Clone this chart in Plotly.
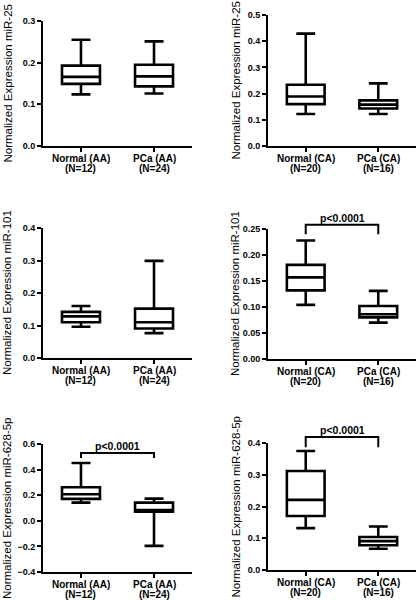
import plotly.graph_objects as go

# ---------------- data ----------------
groups_aa = ["Normal (AA)", "PCa (AA)"]
n_aa = ["(N=12)", "(N=24)"]
groups_ca = ["Normal (CA)", "PCa (CA)"]
n_ca = ["(N=20)", "(N=16)"]

titles = ["Normalized Expression miR-25", "Normalized Expression miR-25",
          "Normalized Expression miR-101", "Normalized Expression miR-101",
          "Normalized Expression miR-628-5p", "Normalized Expression miR-628-5p"]

# per panel: [Normal, PCa]
mir25_aa_min = [0.124, 0.126]
mir25_aa_q1 = [0.149, 0.143]
mir25_aa_med = [0.166, 0.167]
mir25_aa_q3 = [0.193, 0.195]
mir25_aa_max = [0.255, 0.251]

mir25_ca_min = [0.122, 0.122]
mir25_ca_q1 = [0.160, 0.143]
mir25_ca_med = [0.189, 0.158]
mir25_ca_q3 = [0.234, 0.174]
mir25_ca_max = [0.429, 0.239]

mir101_aa_min = [0.096, 0.0765]
mir101_aa_q1 = [0.110, 0.091]
mir101_aa_med = [0.128, 0.110]
mir101_aa_q3 = [0.142, 0.152]
mir101_aa_max = [0.160, 0.299]

mir101_ca_min = [0.104, 0.070]
mir101_ca_q1 = [0.132, 0.080]
mir101_ca_med = [0.157, 0.086]
mir101_ca_q3 = [0.181, 0.102]
mir101_ca_max = [0.228, 0.131]

mir628_aa_min = [0.142, -0.196]
mir628_aa_q1 = [0.171, 0.071]
mir628_aa_med = [0.207, 0.084]
mir628_aa_q3 = [0.262, 0.142]
mir628_aa_max = [0.451, 0.173]

mir628_ca_min = [0.132, 0.067]
mir628_ca_q1 = [0.170, 0.078]
mir628_ca_med = [0.221, 0.091]
mir628_ca_q3 = [0.312, 0.104]
mir628_ca_max = [0.375, 0.137]

y_ranges = [[0, 0.3], [0, 0.5], [0, 0.4], [0, 0.25], [-0.4, 0.6], [0, 0.4]]
y_dticks = [0.1, 0.1, 0.1, 0.05, 0.2, 0.1]
y_formats = [".1f", ".1f", ".1f", ".2f", ".1f", ".1f"]

p_text = "p<0.0001"
# significance brackets: panel index -> (leg level, top level)
brackets = {3: (0.240, 0.258), 4: (0.49, 0.53), 5: (0.387, 0.419)}

panels = [
    (groups_aa, n_aa, mir25_aa_min, mir25_aa_q1, mir25_aa_med, mir25_aa_q3, mir25_aa_max),
    (groups_ca, n_ca, mir25_ca_min, mir25_ca_q1, mir25_ca_med, mir25_ca_q3, mir25_ca_max),
    (groups_aa, n_aa, mir101_aa_min, mir101_aa_q1, mir101_aa_med, mir101_aa_q3, mir101_aa_max),
    (groups_ca, n_ca, mir101_ca_min, mir101_ca_q1, mir101_ca_med, mir101_ca_q3, mir101_ca_max),
    (groups_aa, n_aa, mir628_aa_min, mir628_aa_q1, mir628_aa_med, mir628_aa_q3, mir628_aa_max),
    (groups_ca, n_ca, mir628_ca_min, mir628_ca_q1, mir628_ca_med, mir628_ca_q3, mir628_ca_max),
]

# ---------------- layout geometry (pixels) ----------------
W, H = 420, 600
x_px = [(43, 192), (268, 416)]
y_px = [(21, 146), (15, 146), (228, 358), (229, 359), (444, 572), (443, 570)]
title_x_px = [7, 235]
XR = [-0.52, 1.52]

FONT = "Liberation Sans, Arial, sans-serif"

fig = go.Figure()
layout = dict(
    width=W, height=H, margin=dict(l=0, r=0, t=0, b=0, autoexpand=False),
    paper_bgcolor="white", plot_bgcolor="white", showlegend=False,
    font=dict(family=FONT, color="black"),
)
annotations = []
shapes = []


def fx(v):
    return (v - XR[0]) / (XR[1] - XR[0])


for i, (grp, nn, mn, q1, med, q3, mx) in enumerate(panels):
    col = i % 2
    k = "" if i == 0 else str(i + 1)
    xa, ya = "x" + k, "y" + k
    xd = [x_px[col][0] / W, x_px[col][1] / W]
    yd = [1 - y_px[i][1] / H, 1 - y_px[i][0] / H]
    fig.add_trace(go.Box(
        x=[0, 1], q1=q1, median=med, q3=q3, lowerfence=mn, upperfence=mx,
        width=0.52, whiskerwidth=0.5, boxpoints=False,
        fillcolor="white", line=dict(color="black", width=2.6),
        xaxis=xa, yaxis=ya, hoverinfo="skip",
    ))
    layout["xaxis" + k] = dict(
        domain=xd, anchor=ya, range=XR, tickvals=[0, 1], showticklabels=False,
        showline=True, linecolor="black", linewidth=2, ticks="outside",
        ticklen=4, tickwidth=1.6, tickcolor="black", showgrid=False, zeroline=False,
        fixedrange=True, automargin=False,
    )
    layout["yaxis" + k] = dict(
        domain=yd, anchor=xa, range=y_ranges[i], dtick=y_dticks[i], tick0=0,
        tickformat=y_formats[i], showline=True, linecolor="black", linewidth=2,
        ticks="outside", ticklen=4, tickwidth=1.6, tickcolor="black",
        showgrid=False, zeroline=False,
        tickfont=dict(size=9, family=FONT, weight="bold", color="black"),
        fixedrange=True, automargin=False,
    )
    # two-line category labels
    for j in range(2):
        for txt, shift in ((grp[j], -12), (nn[j], -22)):
            annotations.append(dict(
                text=txt, xref=xa + " domain", yref=ya + " domain",
                x=fx(j), y=0, xanchor="center", yanchor="middle",
                yshift=shift, showarrow=False,
                font=dict(size=10, family=FONT, weight="bold", color="black"),
            ))
    annotations.append(dict(
        text=titles[i], textangle=-90, xref="paper", yref="paper",
        x=title_x_px[col] / W, y=1 - (y_px[i][0] + y_px[i][1]) / 2 / H,
        xanchor="center", yanchor="middle", showarrow=False,
        font=dict(size=11.5, family=FONT, color="black"),
    ))
    if i in brackets:
        lo, hi = brackets[i]
        r0, r1 = y_ranges[i]
        fy = lambda v: (v - r0) / (r1 - r0)
        path = "M {a},{l} L {a},{h} L {b},{h} L {b},{l}".format(
            a=fx(0), b=fx(1), l=fy(lo), h=fy(hi))
        shapes.append(dict(
            type="path", path=path, xref=xa + " domain", yref=ya + " domain",
            line=dict(color="black", width=2),
        ))
        annotations.append(dict(
            text=p_text, xref=xa + " domain", yref=ya + " domain",
            x=fx(0.5), y=fy(hi), xanchor="center", yanchor="bottom",
            yshift=-1, showarrow=False,
            font=dict(size=10.5, family=FONT, weight="bold", color="black"),
        ))

layout["annotations"] = annotations
layout["shapes"] = shapes
fig.update_layout(**layout)
fig.write_html(
    "out.html",
    config={"displayModeBar": False},
    post_script="document.body.style.margin='0';document.body.style.overflow='hidden';",
)
